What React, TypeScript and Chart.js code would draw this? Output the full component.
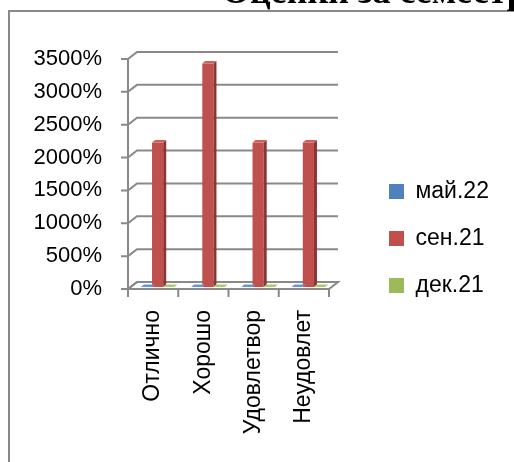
import React, { useEffect, useRef } from 'react';
import { Chart, registerables } from 'chart.js';

Chart.register(...registerables);

const TITLE = 'Оценки за семестр';
const categories = ['Отлично', 'Хорошо', 'Удовлетвор', 'Неудовлет'];
const seriesNames = ['май.22', 'сен.21', 'дек.21'];
const may22 = [0, 0, 0, 0];
const sen21 = [2200, 3400, 2200, 2200];
const dec21 = [0, 0, 0, 0];
const yMin = 0;
const yMax = 3500;
const yStep = 500;

const FRONT = ['#4f81bd', '#c0504d', '#9bbb59'];
const SIDE = ['#385d8a', '#8a3634', '#71893f'];
const TOPC = ['#6b96cc', '#cb625f', '#acc970'];
const AXIS = '#898989';
const FONT = 'Liberation Sans';

// 3D geometry (styles)
const DX = 9, DY = -7; // wall depth
const BX = 4.5, BY = -2; // bar shift into depth
const BDX = 3, BDY = -2.5; // bar depth

const excel3d = {
  id: 'excel3d',
  afterLayout(chart: any) {
    const lg = chart.legend;
    if (lg) {
      lg.left = 365;
      lg.width = 149;
      lg.right = lg.left + lg.width;
      lg.top = 156;
      lg.height = 300;
      lg.bottom = lg.top + lg.height;
    }
  },
  beforeDraw(chart: any) {
    const { ctx } = chart;
    ctx.save();
    ctx.fillStyle = '#ffffff';
    ctx.fillRect(0, 0, chart.width, chart.height);
    ctx.strokeStyle = AXIS;
    ctx.lineWidth = 2;
    ctx.strokeRect(9, 11, chart.width + 50, chart.height + 50);
    ctx.fillStyle = '#000';
    ctx.font = 'bold 36px "Liberation Serif"';
    ctx.textAlign = 'left';
    ctx.textBaseline = 'alphabetic';
    ctx.fillText(TITLE, 222, 3);
    ctx.restore();
  },
  beforeDatasetsDraw(chart: any) {
    const { ctx } = chart;
    const x = chart.scales.x;
    const y = chart.scales.y;
    const left = x.left;
    const right = x.right;
    const y0 = y.getPixelForValue(yMin);
    ctx.save();
    ctx.strokeStyle = AXIS;
    ctx.lineWidth = 2;
    // floor
    ctx.beginPath();
    ctx.moveTo(left, y0);
    ctx.lineTo(right, y0);
    ctx.lineTo(right + DX, y0 + DY);
    ctx.lineTo(left + DX, y0 + DY);
    ctx.closePath();
    ctx.stroke();
    // back wall gridlines with front ticks and connectors
    for (let v = yMin; v <= yMax; v += yStep) {
      const py = y.getPixelForValue(v);
      ctx.beginPath();
      ctx.moveTo(left - 7, py);
      ctx.lineTo(left, py);
      ctx.lineTo(left + DX, py + DY);
      ctx.lineTo(right + DX, py + DY);
      ctx.stroke();
    }
    // front value axis
    ctx.beginPath();
    ctx.moveTo(left, y.getPixelForValue(yMax));
    ctx.lineTo(left, y0);
    ctx.stroke();
    // category tick marks
    const n = categories.length;
    for (let i = 0; i <= n; i++) {
      const px = left + ((right - left) * i) / n;
      ctx.beginPath();
      ctx.moveTo(px, y0);
      ctx.lineTo(px, y0 + 8);
      ctx.stroke();
    }
    ctx.restore();
    ctx.save();
    ctx.translate(BX, BY);
  },
  afterDatasetsDraw(chart: any) {
    const { ctx } = chart;
    chart.data.datasets.forEach((_ds: any, di: number) => {
      const meta = chart.getDatasetMeta(di);
      meta.data.forEach((bar: any) => {
        const { x, y, base, width } = bar.getProps(['x', 'y', 'base', 'width'], true);
        const l = x - width / 2;
        const r = x + width / 2;
        ctx.fillStyle = SIDE[di];
        ctx.beginPath();
        ctx.moveTo(r, y);
        ctx.lineTo(r + BDX, y + BDY);
        ctx.lineTo(r + BDX, base + BDY);
        ctx.lineTo(r, base);
        ctx.closePath();
        ctx.fill();
        ctx.fillStyle = TOPC[di];
        ctx.beginPath();
        ctx.moveTo(l, y);
        ctx.lineTo(r, y);
        ctx.lineTo(r + BDX, y + BDY);
        ctx.lineTo(l + BDX, y + BDY);
        ctx.closePath();
        ctx.fill();
      });
    });
    ctx.restore();
  },
};

export default function App() {
  const ref = useRef<HTMLCanvasElement | null>(null);
  useEffect(() => {
    if (!ref.current) return;
    const chart = new Chart(ref.current, {
      type: 'bar',
      data: {
        labels: categories,
        datasets: [
          { label: seriesNames[0], data: may22, backgroundColor: FRONT[0], borderWidth: 0 },
          { label: seriesNames[1], data: sen21, backgroundColor: FRONT[1], borderWidth: 0 },
          { label: seriesNames[2], data: dec21, backgroundColor: FRONT[2], borderWidth: 0 },
        ],
      },
      options: {
        responsive: false,
        animation: false,
        events: [],
        layout: { padding: { top: 59, right: 85, bottom: 0, left: 0 } },
        datasets: { bar: { categoryPercentage: 0.667, barPercentage: 1 } } as any,
        plugins: {
          legend: {
            position: 'right',
            align: 'start',
            maxWidth: 100,
            labels: {
              boxWidth: 15,
              boxHeight: 15,
              padding: 24,
              color: '#000',
              font: { family: FONT, size: 23 },
            },
          } as any,
          tooltip: { enabled: false },
        },
        scales: {
          x: {
            grid: { display: false, drawTicks: false },
            border: { display: false },
            ticks: {
              minRotation: 90,
              maxRotation: 90,
              autoSkip: false,
              padding: 21,
              color: '#000',
              font: { family: FONT, size: 23 },
            },
            afterFit: (s: any) => {
              s.height = 173;
            },
          },
          y: {
            min: yMin,
            max: yMax,
            grid: { display: false, drawTicks: false },
            border: { display: false },
            ticks: {
              stepSize: yStep,
              padding: 26,
              color: '#000',
              font: { family: FONT, size: 22 },
              callback: (v: any) => `${v}%`,
            },
            afterFit: (s: any) => {
              s.width = 128;
            },
          },
        },
      },
      plugins: [excel3d],
    });
    return () => chart.destroy();
  }, []);
  return (
    <div style={{ position: 'fixed', left: 0, top: 0, width: 514, height: 462, background: '#fff' }}>
      <canvas ref={ref} width={514} height={462} style={{ display: 'block' }} />
    </div>
  );
}
